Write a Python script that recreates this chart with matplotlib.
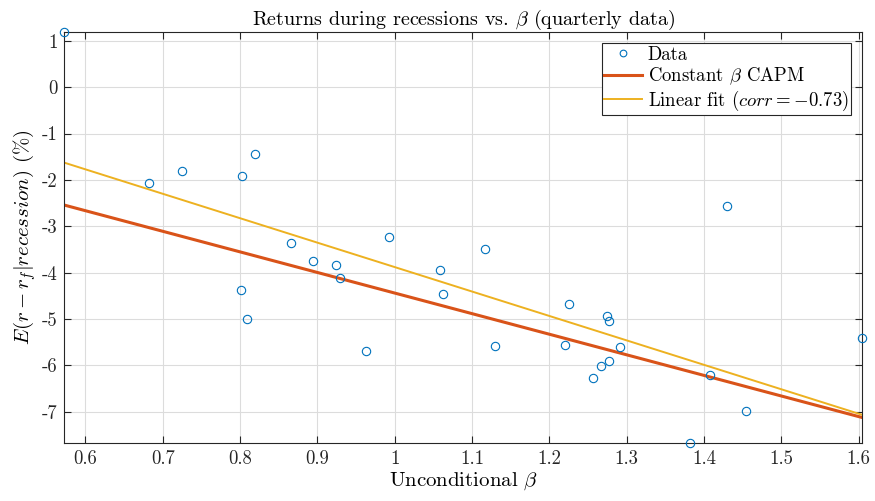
import matplotlib
matplotlib.use("Agg")
import matplotlib.pyplot as plt
import numpy as np

plt.rcParams['font.family'] = 'serif'
plt.rcParams['font.serif'] = ['cmr10']
plt.rcParams['mathtext.fontset'] = 'cm'
plt.rcParams['axes.unicode_minus'] = False
plt.rcParams['axes.formatter.use_mathtext'] = True

beta = [0.573, 0.682, 0.725, 0.802, 0.819, 0.866, 0.895, 0.924, 0.929, 0.801,
        0.809, 0.993, 0.963, 1.058, 1.063, 1.117, 1.130, 1.226, 1.220, 1.275,
        1.277, 1.256, 1.267, 1.277, 1.291, 1.430, 1.408, 1.455, 1.382, 1.605]
ret = [1.19, -2.06, -1.81, -1.92, -1.44, -3.36, -3.75, -3.84, -4.12, -4.37,
       -5.01, -3.24, -5.69, -3.94, -4.47, -3.48, -5.59, -4.68, -5.56, -4.93,
       -5.04, -6.28, -6.01, -5.90, -5.61, -2.56, -6.20, -6.99, -7.68, -5.42]

capm_slope = -4.44          # market excess return in recessions (%)
fit_slope, fit_intercept = -5.27, 1.39
corr = -0.73

xticks = [0.6, 0.7, 0.8, 0.9, 1.0, 1.1, 1.2, 1.3, 1.4, 1.5, 1.6]
xticklabels = ['0.6', '0.7', '0.8', '0.9', '1', '1.1', '1.2', '1.3', '1.4', '1.5', '1.6']
yticks = [-7, -6, -5, -4, -3, -2, -1, 0, 1]
yticklabels = ['-7', '-6', '-5', '-4', '-3', '-2', '-1', '0', '1']

blue, red, yellow = '#0072BD', '#D95319', '#EDB120'

fig = plt.figure(figsize=(8.75, 5.01), dpi=100)
ax = fig.add_axes([0.0737, 0.1152, 0.9120, 0.8210])

b = np.array(beta)
xs = np.array([b.min(), b.max()])
ax.plot(beta, ret, 'o', mfc='none', mec=blue, ms=6, mew=0.8, label='Data',
        zorder=3, clip_on=False)
ax.plot(xs, capm_slope * xs, color=red, lw=2.2, label=r'Constant $\beta$ CAPM', zorder=2)
ax.plot(xs, fit_intercept + fit_slope * xs, color=yellow, lw=1.4,
        label=r'Linear fit ($corr=%.2f$)' % corr, zorder=2)

ax.set_xlim(b.min(), b.max())
ax.set_ylim(min(ret), max(ret))
ax.set_xticks(xticks)
ax.set_xticklabels(xticklabels)
ax.set_yticks(yticks)
ax.set_yticklabels(yticklabels)
ax.tick_params(direction='in', top=True, right=True, length=5, width=0.8,
               labelsize=13.5, colors='#262626', pad=5)
ax.grid(True, color='#dcdcdc', lw=0.8)
ax.set_axisbelow(True)
for s in ax.spines.values():
    s.set_color('#262626')
    s.set_linewidth(0.8)

ax.set_title(r'Returns during recessions vs. $\beta$ (quarterly data)', fontsize=14.5, pad=5)
ax.set_xlabel(r'Unconditional $\beta$', fontsize=15, labelpad=2)
ax.set_ylabel(r'$E(r-r_f|recession)$ (%)', fontsize=15, labelpad=3)

leg = ax.legend(loc='upper right', fontsize=13.5, fancybox=False, framealpha=1,
                edgecolor='#262626', borderpad=0.15, labelspacing=0.08,
                handlelength=2.0, handletextpad=0.3, borderaxespad=0.6,
                markerscale=0.8)
leg.get_frame().set_linewidth(0.8)

fig.savefig('out.png', dpi=100)
